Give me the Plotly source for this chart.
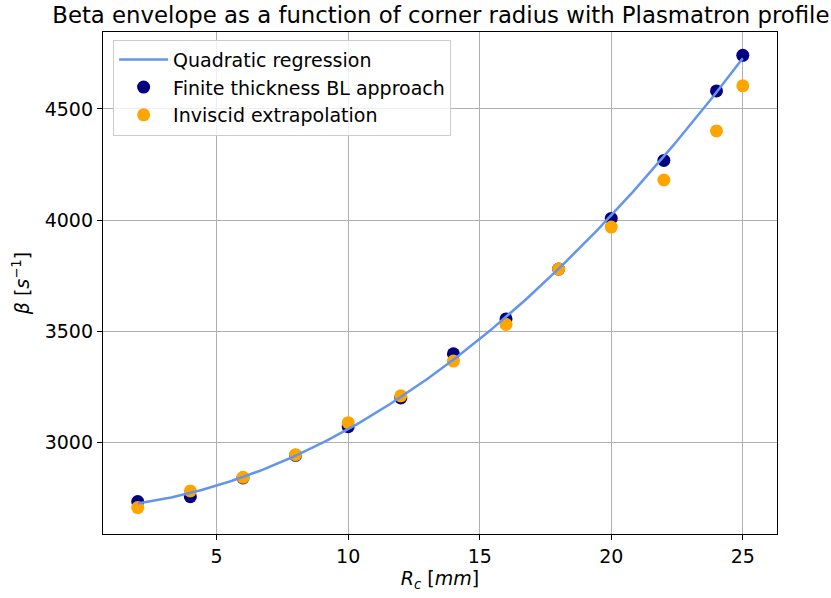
import numpy as np
import plotly.graph_objects as go

# Data
radius_mm = [2, 4, 6, 8, 10, 12, 14, 16, 18, 20, 22, 24, 25]
beta_finite_bl = [2733, 2755, 2839, 2941, 3070, 3199, 3398, 3555, 3779, 4007, 4268, 4581, 4741]
beta_inviscid = [2706, 2781, 2842, 2944, 3088, 3209, 3365, 3530, 3779, 3968, 4180, 4401, 4604]
x_ticks = [5, 10, 15, 20, 25]
y_ticks = [3000, 3500, 4000, 4500]

# Quadratic regression of the finite-thickness BL data (as in the original)
coef = np.polyfit(radius_mm, beta_finite_bl, 2)
x_fit = np.linspace(min(radius_mm), max(radius_mm), 200)
y_fit = np.polyval(coef, x_fit)

FONT = "DejaVu Sans"
FS = 19

fig = go.Figure()
fig.add_trace(go.Scatter(
    x=radius_mm, y=beta_finite_bl, mode="markers",
    name="Finite thickness BL approach",
    marker=dict(color="#000080", size=13, line=dict(width=0)),
    legendrank=2,
))
fig.add_trace(go.Scatter(
    x=radius_mm, y=beta_inviscid, mode="markers",
    name="Inviscid extrapolation",
    marker=dict(color="#FFA500", size=13, line=dict(width=0)),
    legendrank=3,
))
fig.add_trace(go.Scatter(
    x=x_fit, y=y_fit, mode="lines",
    name="Quadratic regression",
    line=dict(color="#6495ED", width=2.5),
    legendrank=1,
))

axis_common = dict(
    showgrid=True, gridcolor="#b0b0b0", gridwidth=1,
    showline=True, linecolor="black", linewidth=1.3, mirror=True,
    ticks="outside", ticklen=5, tickwidth=1.2, tickcolor="black",
    tickfont=dict(family=FONT, size=FS, color="black"),
    zeroline=False,
)

fig.update_layout(
    width=831, height=598,
    margin=dict(l=103, r=54, t=32, b=64),
    paper_bgcolor="white", plot_bgcolor="white",
    font=dict(family=FONT, size=FS, color="black"),
    title=dict(
        text="Beta envelope as a function of corner radius with Plasmatron profile",
        x=0.5305, xanchor="center", y=0.988, yanchor="top",
        font=dict(family=FONT, size=22.8, color="black"),
    ),
    xaxis=dict(
        range=[0.68, 26.3], tickvals=x_ticks,
        title=dict(text="<i>R</i><sub><i>c</i></sub> [<i>mm</i>]", standoff=5,
                   font=dict(family=FONT, size=FS)),
        **axis_common,
    ),
    yaxis=dict(
        range=[2587, 4846], tickvals=y_ticks,
        title=dict(text="<i>β</i> [<i>s</i><sup>−1</sup>]", standoff=10,
                   font=dict(family=FONT, size=FS)),
        **axis_common,
    ),
    legend=dict(
        x=0.015, y=0.985, xanchor="left", yanchor="top",
        bgcolor="rgba(255,255,255,0.8)", bordercolor="#cccccc", borderwidth=1,
        font=dict(family=FONT, size=FS, color="black"),
        tracegroupgap=0, itemwidth=49,
    ),
    showlegend=True,
)

fig.write_html("out.html")
